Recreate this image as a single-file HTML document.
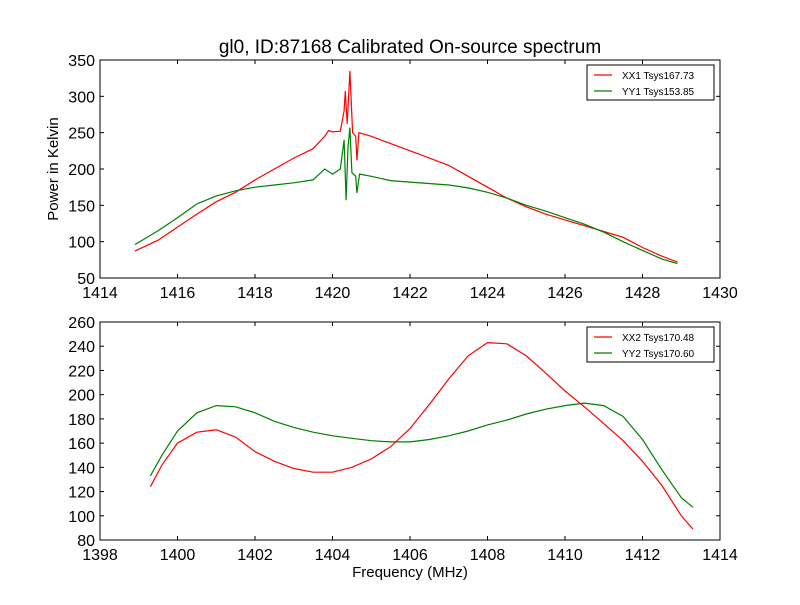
<!DOCTYPE html>
<html><head><meta charset="utf-8"><style>
body{margin:0;background:#fff;}
svg{font-family:"Liberation Sans","DejaVu Sans",sans-serif;}
</style></head><body>
<svg id="chart" width="800" height="600" xmlns="http://www.w3.org/2000/svg">
<rect width="800" height="600" fill="#fff"/>
<text x="410" y="53" font-size="19" text-anchor="middle">gl0, ID:87168 Calibrated On-source spectrum</text>
<text x="58" y="169" font-size="15" text-anchor="middle" transform="rotate(-90 58 169)">Power in Kelvin</text>
<text x="410" y="577" font-size="15" text-anchor="middle">Frequency (MHz)</text>
<g id="g1"></g><g id="g2"></g>
</svg>
<script>
const topFreqXX1=[1414.9,1415.5,1416,1416.5,1417,1417.5,1418,1418.5,1419,1419.5,1419.8,1419.9,1420.0,1420.2,1420.3,1420.33,1420.38,1420.45,1420.52,1420.6,1420.63,1420.68,1421,1421.5,1422,1422.5,1423,1423.5,1424,1424.5,1425,1425.5,1426,1426.5,1427,1427.5,1428,1428.5,1428.9];
const topValXX1=[87,102,120,138,155,168,185,200,215,228,245,253,251,252,280,307,262,335,250,245,212,250,245,235,225,215,205,190,175,160,148,138,130,122,114,106,92,80,72];
const topFreqYY1=[1414.9,1415.5,1416,1416.5,1417,1417.5,1418,1418.5,1419,1419.5,1419.7,1419.8,1420,1420.2,1420.3,1420.35,1420.4,1420.45,1420.5,1420.6,1420.63,1420.7,1421,1421.5,1422,1423,1423.5,1424,1424.5,1425,1425.5,1426,1426.5,1427,1427.5,1428,1428.5,1428.9];
const topValYY1=[96,115,133,152,163,170,175,178,181,185,195,200,193,200,240,157,230,257,195,190,167,193,190,184,182,178,174,168,160,150,142,133,124,113,100,88,76,70];
const botFreq=[1399.3,1399.6,1400,1400.5,1401,1401.5,1402,1402.5,1403,1403.5,1404,1404.5,1405,1405.5,1406,1406.5,1407,1407.5,1408,1408.5,1409,1409.5,1410,1410.5,1411,1411.5,1412,1412.5,1413,1413.3];
const botValXX2=[124,142,160,169,171,165,153,145,139,136,136,140,147,157,172,192,213,232,243,242,232,218,203,190,176,162,145,125,100,89];
const botValYY2=[133,150,170,185,191,190,185,178,173,169,166,164,162,161,161,163,166,170,175,179,184,188,191,193,191,182,163,138,115,107];
const topXTicks=[1414,1416,1418,1420,1422,1424,1426,1428,1430];
const topYTicks=[50,100,150,200,250,300,350];
const botXTicks=[1398,1400,1402,1404,1406,1408,1410,1412,1414];
const botYTicks=[80,100,120,140,160,180,200,220,240,260];
const NS="http://www.w3.org/2000/svg";
function mk(p,t,a){const e=document.createElementNS(NS,t);for(const k in a)e.setAttribute(k,a[k]);p.appendChild(e);return e;}
function panel(g,L,T,W,H,xmin,xmax,ymin,ymax,xt,yt,series,labels,pname){
 const sx=v=>L+(v-xmin)/(xmax-xmin)*W, sy=v=>T+H-(v-ymin)/(ymax-ymin)*H;
 const cp=mk(g,'clipPath',{id:'c'+pname});mk(cp,'rect',{x:L,y:T,width:W,height:H});
 series.forEach(s=>{
  const pl=mk(g,'polyline',{points:s.x.map((f,i)=>sx(f).toFixed(1)+','+sy(s.y[i]).toFixed(1)).join(' '),fill:'none',stroke:s.c,'stroke-width':1.2,'clip-path':'url(#c'+pname+')'});
  
  
 });
 const fr=mk(g,'rect',{x:L,y:T,width:W,height:H,fill:'none',stroke:'#000','stroke-width':1});
 
 
 xt.forEach(v=>{const x=sx(v);mk(g,'line',{x1:x,x2:x,y1:T+H,y2:T+H-4,stroke:'#000'});mk(g,'line',{x1:x,x2:x,y1:T,y2:T+4,stroke:'#000'});
  const t=mk(g,'text',{x:x,y:T+H+20,'font-size':16,'text-anchor':'middle'});t.textContent=v;
  
  });
 yt.forEach(v=>{const y=sy(v);mk(g,'line',{x1:L,x2:L+4,y1:y,y2:y,stroke:'#000'});mk(g,'line',{x1:L+W,x2:L+W-4,y1:y,y2:y,stroke:'#000'});
  const t=mk(g,'text',{x:L-5,y:y+6,'font-size':16,'text-anchor':'end'});t.textContent=v;
  
  });
 const lg=mk(g,'g',{});
 
 
 mk(lg,'rect',{x:587,y:T+5,width:127,height:35,fill:'#fff',stroke:'#000'});
 series.forEach((s,i)=>{const y=T+15+i*16;mk(lg,'line',{x1:594,x2:612,y1:y,y2:y,stroke:s.c,'stroke-width':1.2});
  const t=mk(lg,'text',{x:622,y:y+4,'font-size':10});t.textContent=labels[i];
  
  });
}
panel(document.getElementById('g1'),100,60,620,218,1414,1430,50,350,topXTicks,topYTicks,
 [{x:topFreqXX1,y:topValXX1,c:'#ff0000',n:'xx1'},{x:topFreqYY1,y:topValYY1,c:'#008000',n:'yy1'}],['XX1 Tsys167.73','YY1 Tsys153.85'],'top');
panel(document.getElementById('g2'),100,322,620,218,1398,1414,80,260,botXTicks,botYTicks,
 [{x:botFreq,y:botValXX2,c:'#ff0000',n:'xx2'},{x:botFreq,y:botValYY2,c:'#008000',n:'yy2'}],['XX2 Tsys170.48','YY2 Tsys170.60'],'bottom');
</script>
</body></html>
